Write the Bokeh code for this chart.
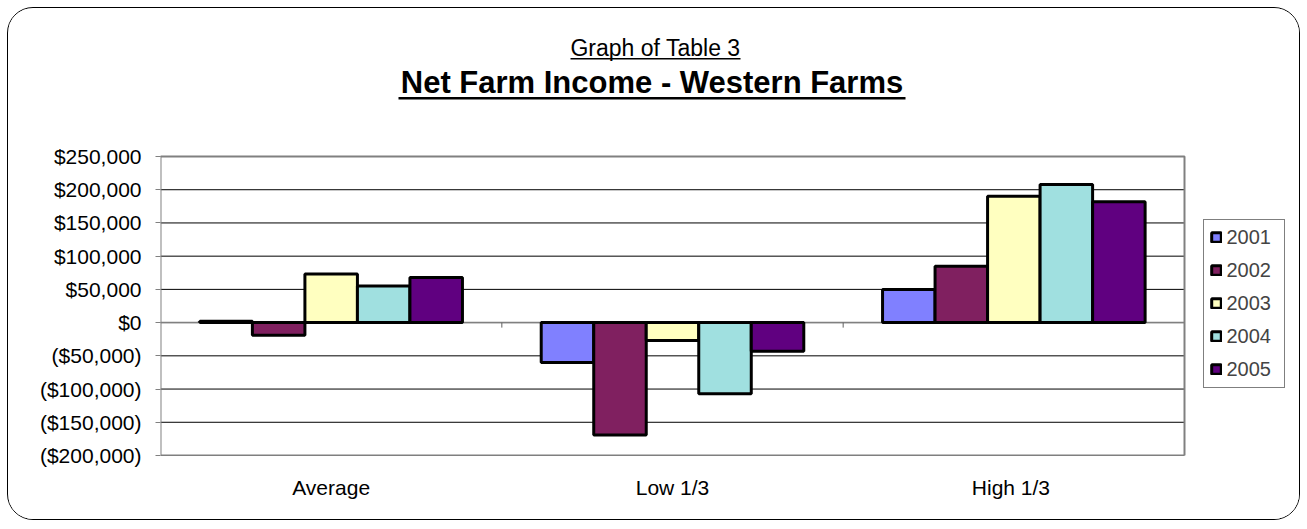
from bokeh.plotting import figure
from bokeh.models import (Range1d, NumeralTickFormatter, FixedTicker, Label,
                          Legend, LegendItem, ColumnDataSource)
from bokeh.transform import dodge
from bokeh.embed import file_html
from bokeh.resources import INLINE

categories = ["Average", "Low 1/3", "High  1/3"]
years = ["2001", "2002", "2003", "2004", "2005"]
v2001 = [2000, -60000, 50000]
v2002 = [-19000, -169000, 85000]
v2003 = [73000, -27000, 190000]
v2004 = [55000, -107000, 208000]
v2005 = [68000, -43000, 182000]
colors = ["#8080FF", "#802060", "#FFFFC0", "#A0E0E0", "#600080"]
y_ticks = [-200000, -150000, -100000, -50000, 0, 50000, 100000, 150000, 200000, 250000]
subtitle = "Graph of Table 3"
title = "Net Farm Income - Western Farms"

FONT = "Liberation Sans"
# canvas placed at image (8, 8); size in px
W, H = 1293, 513
# plot area (value axis box) in image px
PA_L, PA_R, PA_T, PA_B = 160, 1184, 156, 455
ncat = len(categories)
ymin, ymax = y_ticks[0], y_ticks[-1]
SX = (PA_R - PA_L) / ncat                 # px per category
SY = (PA_B - PA_T) / (ymax - ymin)        # px per value unit
CANVAS_R, CANVAS_T = 8 + W, 8


def dx(px):
    return (px - PA_L) / SX


def dy(py):
    return ymin + (PA_B - py) / SY


p = figure(width=W, height=H,
           x_range=Range1d(0, dx(CANVAS_R)), y_range=Range1d(ymin, dy(CANVAS_T)),
           output_backend="svg", toolbar_location=None,
           min_border_left=PA_L - 8, min_border_right=0, min_border_top=0,
           min_border_bottom=8 + H - PA_B)
p.background_fill_color = "white"
p.border_fill_color = "white"
p.outline_line_color = None
p.grid.visible = False

# gridlines across the plot area only
p.segment(x0=[0] * len(y_ticks), x1=[ncat] * len(y_ticks), y0=y_ticks, y1=y_ticks,
          line_color="black", line_width=1)
# zero (category) axis line and its ticks
p.segment(x0=[0], x1=[ncat], y0=[0], y1=[0], line_color="#808080", line_width=1.5)
bounds = list(range(1, ncat))
p.segment(x0=bounds, x1=bounds, y0=[0] * len(bounds), y1=[-5 / SY] * len(bounds),
          line_color="#606060", line_width=1)

src = ColumnDataSource(dict(xc=[i + 0.5 for i in range(ncat)], y2001=v2001, y2002=v2002,
                            y2003=v2003, y2004=v2004, y2005=v2005))
bar_w = 1 / 6.5
items = []
for i, (yr, c) in enumerate(zip(years, colors)):
    r = p.vbar(x=dodge("xc", (i - 2) * bar_w), top="y" + yr, bottom=0, width=bar_w,
               source=src, fill_color=c, line_color="black", line_width=3)
    items.append(LegendItem(label=yr, renderers=[r]))

# plot-area outline
p.quad(left=[0], right=[ncat], bottom=[ymin], top=[ymax], fill_color=None,
       line_color="#808080", line_width=2)

# value axis
p.yaxis.ticker = FixedTicker(ticks=y_ticks)
p.yaxis.bounds = (ymin, ymax)
p.yaxis.formatter = NumeralTickFormatter(format="($0,0)")
p.yaxis.axis_line_color = None
p.yaxis.major_tick_out = 5
p.yaxis.major_tick_in = 0
p.yaxis.major_tick_line_color = "#808080"
p.yaxis.minor_tick_line_color = None
p.yaxis.major_label_standoff = 14
p.yaxis.major_label_text_font = FONT
p.yaxis.major_label_text_font_size = "21px"
p.yaxis.major_label_text_color = "black"

# category axis
p.xaxis.ticker = FixedTicker(ticks=[i + 0.5 for i in range(ncat)])
p.xaxis.major_label_overrides = {i + 0.5: c for i, c in enumerate(categories)}
p.xaxis.axis_line_color = None
p.xaxis.major_tick_line_color = None
p.xaxis.minor_tick_line_color = None
p.xaxis.major_label_standoff = 14
p.xaxis.major_label_text_font = FONT
p.xaxis.major_label_text_font_size = "21px"
p.xaxis.major_label_text_color = "black"

# legend
legend = Legend(items=items, location=(1203 - PA_L, PA_B - 388), orientation="vertical",
                label_text_font=FONT, label_text_font_size="20px",
                glyph_width=12, glyph_height=12, label_standoff=5, padding=6,
                spacing=10, label_height=19, label_width=51,
                border_line_color="black", border_line_width=1,
                background_fill_color="white", background_fill_alpha=1.0, margin=0)
p.add_layout(legend)

# titles with underlines
p.add_layout(Label(x=dx(655), y=dy(47), text=subtitle, text_font=FONT,
                   text_font_size="23px", text_align="center",
                   text_baseline="alphabetic", text_color="black"))
p.add_layout(Label(x=dx(651.5), y=dy(82), text=title, text_font=FONT,
                   text_font_size="31px", text_font_style="bold", text_align="center",
                   text_baseline="alphabetic", text_color="black"))
p.quad(left=[dx(570), dx(398)], right=[dx(740), dx(905)],
       top=[dy(57.5), dy(96.5)], bottom=[dy(59), dy(99)],
       fill_color="black", line_color=None)

p.styles = {"margin-left": "6.5px", "margin-top": "6.5px",
            "border": "1.5px solid black", "border-radius": "26px",
            "overflow": "hidden"}

open("out.html", "w").write(file_html(p, INLINE))
